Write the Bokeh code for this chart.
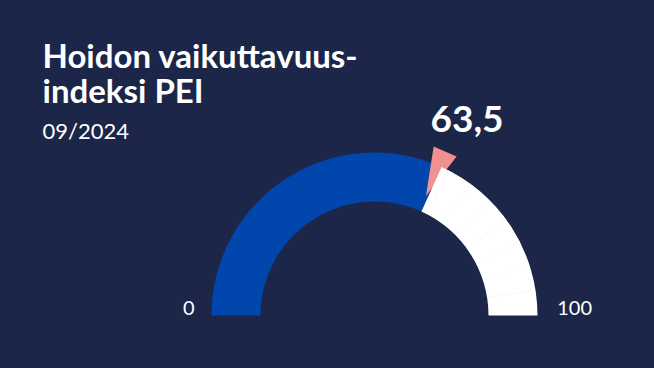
import numpy as np
from bokeh.plotting import figure
from bokeh.embed import file_html
from bokeh.resources import INLINE
from bokeh.core.properties import value

# ---- data ----
title_lines = ["Hoidon vaikuttavuus-", "indeksi PEI"]
subtitle = "09/2024"
gauge_min = 0
gauge_max = 100
gauge_value = 63.5
value_label = "63,5"
min_label = "0"
max_label = "100"
grid_values = [65, 70, 75, 80, 85, 90, 95]

BG = "#1b2649"
BLUE = "#0046ad"
PINK = "#f0908f"
W, H = 638, 352
cx, cy = 374, 352 - 315
r_in, r_out = 114, 163
K = 0.37  # baseline correction (em)


def ang(v):
    return np.pi * (1 - (v - gauge_min) / (gauge_max - gauge_min))


p = figure(width=W, height=H, x_range=(0, W), y_range=(0, H),
           output_backend="svg", toolbar_location=None, min_border=0,
           background_fill_color=BG, border_fill_color=BG)
p.axis.visible = False
p.grid.visible = False
p.outline_line_color = None

a_val = ang(gauge_value)
# blue (value) portion
p.annular_wedge(x=[cx], y=[cy], inner_radius=r_in, outer_radius=r_out,
                start_angle=[a_val], end_angle=[np.pi], fill_color=BLUE,
                line_color=None)
# pointer triangle
da = np.radians(4.0)
ac = a_val + np.radians(1.0)
tri_r = [130, 179, 179]
tri_a = [ac, ac + da, ac - da]
px = [cx + r * np.cos(a) for r, a in zip(tri_r, tri_a)]
py = [cy + r * np.sin(a) for r, a in zip(tri_r, tri_a)]
p.patch(px, py, fill_color=PINK, line_color=None)
# remaining (white) portion
p.annular_wedge(x=[cx], y=[cy], inner_radius=r_in, outer_radius=r_out,
                start_angle=[0], end_angle=[a_val],
                fill_color="white", line_color=None)
# faint segment lines
gx0 = [cx + r_in * np.cos(ang(v)) for v in grid_values]
gy0 = [cy + r_in * np.sin(ang(v)) for v in grid_values]
gx1 = [cx + r_out * np.cos(ang(v)) for v in grid_values]
gy1 = [cy + r_out * np.sin(ang(v)) for v in grid_values]
p.segment(gx0, gy0, gx1, gy1, line_color="#f2f3f7", line_width=0.6)

# texts
ts = 33
p.text(x=[42, 42], y=[352 - 66.7 + K * ts, 352 - 101.7 + K * ts], text=title_lines,
       text_font=value("Lato"), text_font_style="bold",
       text_font_size="%dpx" % ts, text_color="white", text_baseline="alphabetic")
p.text(x=[42], y=[352 - 138.3 + K * 22], text=[subtitle], text_font=value("Lato"),
       text_font_size="22px", text_color="white", text_baseline="alphabetic")
p.text(x=[430], y=[352 - 131.7 + K * 37], text=[value_label], text_font=value("Lato"),
       text_font_style="bold", text_font_size="37px", text_color="white",
       text_baseline="alphabetic")
p.text(x=[194], y=[352 - 315 + K * 20], text=[min_label], text_font=value("Lato"),
       text_font_size="20px", text_color="white", text_baseline="alphabetic",
       text_align="right")
p.text(x=[556.7], y=[352 - 315 + K * 20], text=[max_label], text_font=value("Lato"),
       text_font_size="20px", text_color="white", text_baseline="alphabetic",
       text_align="left")

html = file_html(p, INLINE)
html = html.replace("<head>", "<head><style>html,body{background:%s;}</style>" % BG, 1)
open("out.html", "w").write(html)
